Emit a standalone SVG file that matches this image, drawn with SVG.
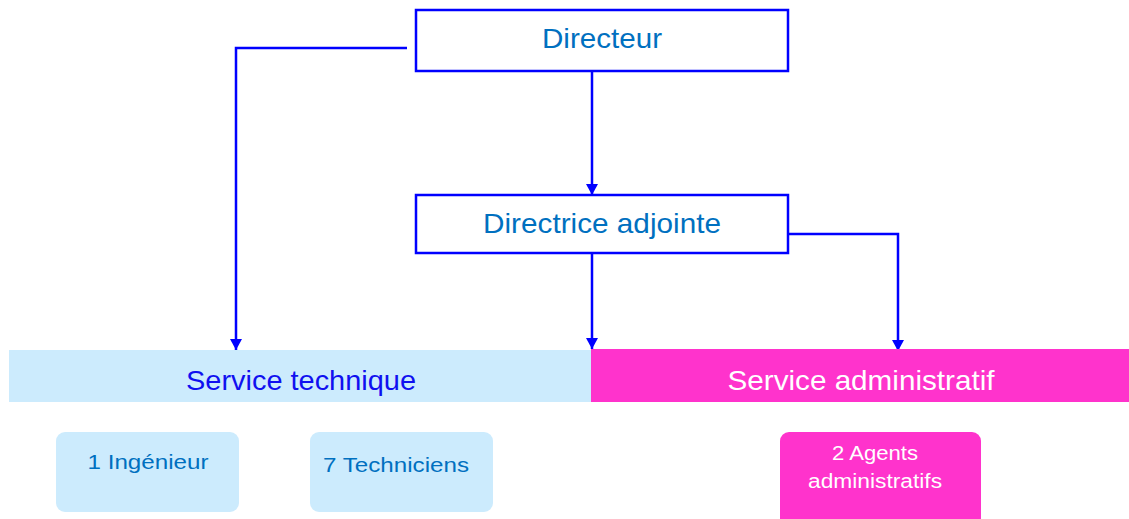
<svg xmlns="http://www.w3.org/2000/svg" width="1129" height="519" viewBox="0 0 1129 519">
<defs>
<marker id="ah" markerWidth="12" markerHeight="12" refX="11" refY="6" orient="auto" markerUnits="userSpaceOnUse">
<path d="M0,0 L11,6 L0,12 Z" fill="#0000FF"/>
</marker>
<style>
.box{fill:#FFFFFF;stroke:#0000FF;stroke-width:2.5}
.conn{fill:none;stroke:#0000FF;stroke-width:2.5}
.t{font-family:"Liberation Sans",Arial,sans-serif;text-anchor:middle}
.main{font-size:28px;fill:#0070C0}
.small{font-size:21px;fill:#0070C0}
.light{fill:#CCEBFD}
.pink{fill:#FF33CC}
</style>
</defs>
<g id="connectors">
<polyline class="conn" points="407,48 236,48 236,350" marker-end="url(#ah)"/>
<line class="conn" x1="592" y1="71" x2="592" y2="195" marker-end="url(#ah)"/>
<line class="conn" x1="592" y1="253" x2="592" y2="349" marker-end="url(#ah)"/>
<polyline class="conn" points="788,234 898,234 898,351" marker-end="url(#ah)"/>
</g>
<g id="directeur">
<rect class="box" x="416" y="10" width="372" height="61"/>
<text class="t main" x="602" y="48" textLength="120" lengthAdjust="spacingAndGlyphs">Directeur</text>
</g>
<g id="directrice">
<rect class="box" x="416" y="195" width="372" height="58"/>
<text class="t main" x="602" y="233" textLength="238" lengthAdjust="spacingAndGlyphs">Directrice adjointe</text>
</g>
<g id="service-technique">
<rect class="light" x="9" y="350" width="582" height="52"/>
<text class="t" x="301" y="390" font-size="28" fill="#1010F0" textLength="230" lengthAdjust="spacingAndGlyphs">Service technique</text>
</g>
<g id="service-administratif">
<rect class="pink" x="591" y="349" width="538" height="53"/>
<text class="t" x="861" y="390" font-size="28" fill="#FFFFFF" textLength="267" lengthAdjust="spacingAndGlyphs">Service administratif</text>
</g>
<g id="ingenieur">
<rect class="light" x="56" y="432" width="183" height="80" rx="9"/>
<text class="t small" x="148" y="469" textLength="121" lengthAdjust="spacingAndGlyphs">1 Ingénieur</text>
</g>
<g id="techniciens">
<rect class="light" x="310" y="432" width="183" height="80" rx="9"/>
<text class="t small" x="396" y="472" textLength="146" lengthAdjust="spacingAndGlyphs">7 Techniciens</text>
</g>
<g id="agents">
<rect class="pink" x="780" y="432" width="201" height="95" rx="9"/>
<text class="t" x="875" y="460" font-size="20" fill="#FFFFFF" textLength="86" lengthAdjust="spacingAndGlyphs">2 Agents</text>
<text class="t" x="875" y="488" font-size="20" fill="#FFFFFF" textLength="134" lengthAdjust="spacingAndGlyphs">administratifs</text>
</g>
</svg>
